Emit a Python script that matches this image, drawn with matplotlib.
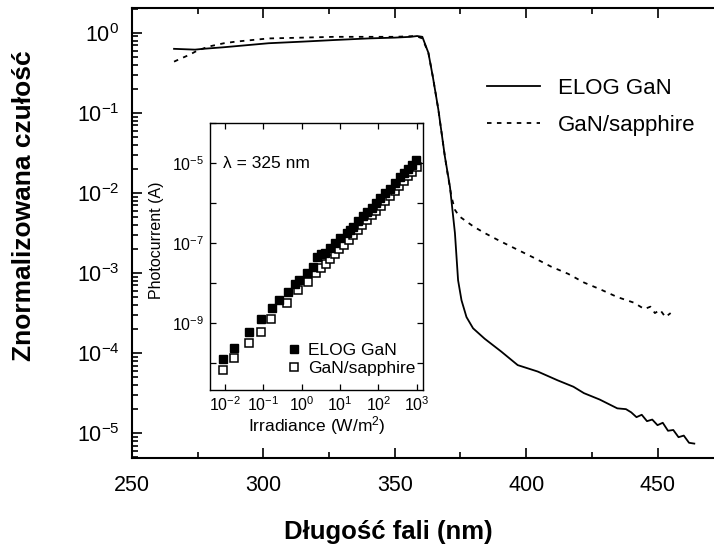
import numpy as np
import matplotlib
matplotlib.use("Agg")
import matplotlib.pyplot as plt
from matplotlib.ticker import LogLocator, FixedLocator, NullLocator, NullFormatter

plt.rcParams["font.family"] = ["Liberation Sans", "DejaVu Sans"]
plt.rcParams["mathtext.fontset"] = "custom"
plt.rcParams["mathtext.rm"] = "Liberation Sans"
plt.rcParams["mathtext.it"] = "Liberation Sans:italic"
plt.rcParams["mathtext.bf"] = "Liberation Sans:bold"

# --- main spectra (wavelength nm, log10 of normalised responsivity) ---
elog_wl = [266, 274, 277, 285, 302, 315, 327, 340, 350, 356, 358.5, 360.5,
           362.8, 364.5, 366.6, 369.1, 371, 372.9, 374.1, 375.4, 377.3, 379.8,
           384.2, 390.5, 396.8, 404.4, 412, 418, 422, 428, 434.7, 438, 440,
           442, 444, 446, 448, 450, 452, 454, 456, 458, 460, 462, 464]
elog_log = [-0.20, -0.21, -0.20, -0.18, -0.13, -0.11, -0.09, -0.07, -0.06, -0.05, -0.04, -0.05,
            -0.25, -0.55, -0.96, -1.55, -1.92, -2.50, -3.09, -3.34, -3.55, -3.69,
            -3.82, -3.98, -4.15, -4.23, -4.34, -4.42, -4.50, -4.58, -4.69, -4.70, -4.74,
            -4.80, -4.77, -4.85, -4.83, -4.90, -4.87, -4.97, -4.96, -5.05, -5.03, -5.12, -5.13]

sapph_wl = [266, 268, 271.8, 275, 279.4, 285, 289.5, 302, 315, 327, 340, 350,
            358, 360.5, 362.8, 364.5, 366.6, 369.1, 370.3, 371.6, 372.9, 374.5,
            376.6, 380, 384.2, 390, 396.8, 403, 409.5, 416, 422.1, 428, 434.7,
            441, 445, 447.3, 449, 451, 453, 455]
sapph_log = [-0.36, -0.33, -0.275, -0.22, -0.17, -0.13, -0.11, -0.07, -0.06, -0.05, -0.05, -0.05,
             -0.04, -0.07, -0.25, -0.55, -0.96, -1.55, -1.80, -2.05, -2.21, -2.29,
             -2.34, -2.42, -2.50, -2.60, -2.71, -2.81, -2.92, -3.01, -3.12, -3.20, -3.30,
             -3.37, -3.45, -3.42, -3.50, -3.46, -3.55, -3.50]

# --- inset: photocurrent vs irradiance (log10 values) ---
elog_irr = [-2.06, -1.76, -1.37, -1.06, -0.78, -0.59, -0.37, -0.18, -0.07, 0.13, 0.30,
            0.39, 0.50, 0.60, 0.73, 0.86, 1.0, 1.17, 1.26, 1.34, 1.47, 1.60, 1.71,
            1.82, 1.93, 2.04, 2.17, 2.30, 2.43, 2.56, 2.67, 2.77, 2.87, 2.97]
elog_pc = [-9.91, -9.64, -9.22, -8.90, -8.62, -8.44, -8.23, -8.04, -7.92, -7.76, -7.60,
           -7.36, -7.28, -7.24, -7.12, -7.00, -6.88, -6.76, -6.68, -6.60, -6.46, -6.32, -6.22,
           -6.12, -6.00, -5.88, -5.76, -5.64, -5.50, -5.35, -5.25, -5.15, -5.05, -4.93]

sapph_irr = [-2.06, -1.77, -1.37, -1.07, -0.80, -0.38, -0.10, 0.16, 0.38, 0.50, 0.62,
             0.74, 0.86, 0.98, 1.10, 1.22, 1.34, 1.46, 1.58, 1.70, 1.82, 1.94, 2.06,
             2.18, 2.30, 2.42, 2.54, 2.66, 2.78, 2.88, 3.0]
sapph_pc = [-10.19, -9.88, -9.51, -9.22, -8.90, -8.50, -8.17, -7.98, -7.75, -7.63, -7.52,
            -7.40, -7.28, -7.16, -7.04, -6.92, -6.80, -6.68, -6.55, -6.43, -6.31, -6.19, -6.07,
            -5.95, -5.83, -5.70, -5.58, -5.45, -5.33, -5.22, -5.10]

x_ticks = [250, 300, 350, 400, 450]
inset_xticks = [-2, -1, 0, 1, 2, 3]
inset_yticks = [-10, -9, -8, -7, -6, -5, -4]

fig = plt.figure(figsize=(7.14, 5.47), dpi=100)
ax = fig.add_axes([132 / 714, 1 - 458 / 547, 1 - 132 / 714, 450 / 547])

ax.plot(elog_wl, 10 ** np.array(elog_log), color="black", lw=1.3, label="ELOG GaN")
ax.plot(sapph_wl, 10 ** np.array(sapph_log), color="black", lw=1.3,
        linestyle=(0, (2.5, 3)), label="GaN/sapphire")

ax.set_yscale("log")
ax.set_xlim(250, 471.5)
ax.set_ylim(10 ** -5.31, 10 ** 0.31)
ax.set_xticks(x_ticks)
ax.set_xticks([275, 325, 375, 425], minor=True)
ax.yaxis.set_major_locator(LogLocator(base=10, numticks=10))
ax.yaxis.set_minor_locator(LogLocator(base=10, subs=np.arange(2, 10), numticks=20))
ax.yaxis.set_minor_formatter(NullFormatter())
ax.tick_params(which="both", direction="in", top=True, right=False, width=1.2)
ax.tick_params(which="major", length=7, labelsize=15.5)
ax.tick_params(which="minor", length=4)
ax.tick_params(axis="x", which="major", pad=12)
ax.tick_params(axis="y", which="major", pad=9)
for s in ["left", "bottom", "top"]:
    ax.spines[s].set_linewidth(1.5)
ax.spines["right"].set_visible(False)

ax.set_xlabel("Długość fali (nm)", fontsize=18.5, fontweight="bold", labelpad=18)
ax.xaxis.set_label_coords(0.44, -0.137)
ax.set_ylabel("Znormalizowana czułość", fontsize=19, fontweight="bold")
ax.yaxis.set_label_coords(-0.165, 0.56)

ax.legend(loc="center left", bbox_to_anchor=(0.61, 0.78), frameon=False,
          fontsize=16, handlelength=2.4, handletextpad=0.8, labelspacing=0.7,
          borderpad=0, borderaxespad=0)

# inset
ax_in = fig.add_axes([210 / 714, 1 - 390 / 547, 213 / 714, 267 / 547])
ax_in.plot(10 ** np.array(sapph_irr), 10 ** np.array(sapph_pc), "s", ms=6,
           mfc="white", mec="black", mew=1.1, label="GaN/sapphire", zorder=2)
ax_in.plot(10 ** np.array(elog_irr), 10 ** np.array(elog_pc), "s", ms=6,
           mfc="black", mec="black", label="ELOG GaN", zorder=3)
ax_in.set_xscale("log")
ax_in.set_yscale("log")
ax_in.set_xlim(10 ** -2.39, 10 ** 3.16)
ax_in.set_ylim(10 ** -10.68, 10 ** -4.0)
ax_in.xaxis.set_major_locator(FixedLocator([10.0 ** e for e in inset_xticks]))
ax_in.xaxis.set_minor_locator(NullLocator())
ax_in.set_xticklabels([f"$10^{{{e}}}$" for e in inset_xticks])
ax_in.yaxis.set_major_locator(FixedLocator([10.0 ** e for e in inset_yticks]))
ax_in.yaxis.set_minor_locator(NullLocator())
ax_in.set_yticklabels([f"$10^{{{e}}}$" if e in (-9, -7, -5) else "" for e in inset_yticks])
ax_in.tick_params(which="both", direction="in", top=True, right=True,
                  length=4, width=0.9, labelsize=11.5, pad=4)
for s in ax_in.spines.values():
    s.set_linewidth(1.0)
ax_in.set_xlabel("Irradiance (W/m$^2$)", fontsize=12.5, labelpad=0)
ax_in.set_ylabel("Photocurrent (A)", fontsize=11.5)
ax_in.yaxis.set_label_coords(-0.215, 0.56)
ax_in.text(0.06, 0.83, "λ = 325 nm", transform=ax_in.transAxes, fontsize=12.5)

h, l = ax_in.get_legend_handles_labels()
ax_in.legend(h[::-1], l[::-1], loc="lower right", frameon=False, fontsize=12.5,
             handlelength=0.8, handletextpad=0.4, labelspacing=0.15,
             borderaxespad=0.6, borderpad=0.2, bbox_to_anchor=(1.03, 0.0, 0, 0.04))

fig.savefig("out.png", dpi=100)
